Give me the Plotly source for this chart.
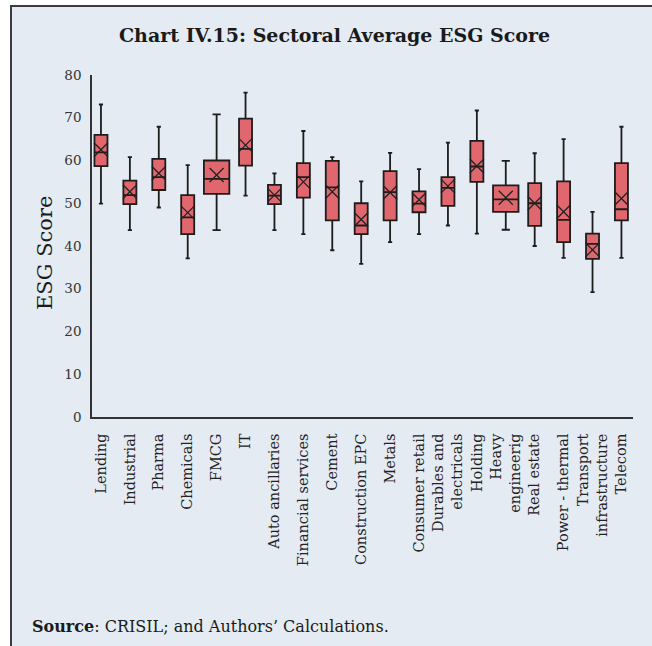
import plotly.graph_objects as go

# Sector names (tick labels) and box-plot statistics of ESG scores per sector
sectors = [
    "Lending", "Industrial", "Pharma", "Chemicals", "FMCG", "IT",
    "Auto ancillaries", "Financial services", "Cement", "Construction EPC",
    "Metals", "Consumer retail", "Durables and<br>electricals", "Holding",
    "Heavy<br>engineerig", "Real estate", "Power - thermal",
    "Transport<br>infrastructure", "Telecom",
]
lower_whisker = [49.9, 43.7, 49.0, 37.1, 43.7, 51.8, 43.7, 42.8, 39.0, 35.8,
                 40.9, 42.8, 44.8, 42.9, 43.8, 40.0, 37.2, 29.2, 37.2]
q1 = [58.7, 49.8, 53.1, 42.8, 52.2, 58.8, 49.8, 51.3, 46.0, 42.8,
      46.0, 47.9, 49.4, 55.0, 48.0, 44.7, 40.9, 37.0, 46.0]
median = [61.9, 51.9, 56.1, 46.7, 55.7, 62.7, 51.8, 56.1, 53.7, 44.8,
          52.6, 49.9, 53.6, 58.6, 50.9, 50.0, 46.1, 40.5, 48.6]
q3 = [66.0, 55.3, 60.4, 51.9, 60.0, 69.8, 54.3, 59.4, 59.9, 50.0,
      57.5, 52.8, 56.1, 64.6, 54.2, 54.7, 55.1, 42.9, 59.4]
upper_whisker = [73.1, 60.8, 67.9, 58.9, 70.8, 75.9, 57.0, 66.9, 60.8, 55.1,
                 61.8, 58.0, 64.2, 71.7, 59.9, 61.7, 65.0, 48.0, 67.9]
mean = [62.5, 52.7, 57.0, 47.8, 56.6, 63.6, 51.9, 55.0, 52.7, 46.2,
        52.5, 50.8, 54.0, 58.7, 51.3, 50.0, 48.0, 39.1, 51.1]
y_ticks = [0, 10, 20, 30, 40, 50, 60, 70, 80]

# Styling
FONT = "DejaVu Serif"
BOX_FILL = "#E0676E"
BOX_LINE = "#1c1c1c"
FRAME_FILL = "#E4EBF3"
WIDE_BOXES = {"FMCG", "Heavy<br>engineerig"}

# Pixel geometry of the plotting area inside the 652x646 canvas
W, H = 652, 646
L, R, T, B = 92, 19, 75, 229
PW, PH = W - L - R, H - T - B


def px_x(x):
    return (x - L) / PW


def px_y(y):
    return (H - B - y) / PH


fig = go.Figure()

for i, name in enumerate(sectors):
    fig.add_trace(go.Box(
        x=[name],
        q1=[q1[i]], median=[median[i]], q3=[q3[i]],
        lowerfence=[lower_whisker[i]], upperfence=[upper_whisker[i]],
        width=0.88 if name in WIDE_BOXES else 0.45,
        whiskerwidth=0.32,
        fillcolor=BOX_FILL,
        line=dict(color=BOX_LINE, width=1.8),
        boxpoints=False,
        showlegend=False,
        hoverinfo="skip",
    ))

# Means shown as X markers
fig.add_trace(go.Scatter(
    x=sectors, y=mean, mode="markers",
    marker=dict(symbol="x-thin", size=14,
                line=dict(color="#222222", width=1.3)),
    showlegend=False, hoverinfo="skip",
))

fig.update_layout(
    width=W, height=H,
    margin=dict(l=L, r=R, t=T, b=B, autoexpand=False),
    paper_bgcolor="white",
    plot_bgcolor="rgba(0,0,0,0)",
    boxmode="overlay",
    font=dict(family=FONT, color="#222222", size=13),
    xaxis=dict(
        type="category",
        categoryorder="array", categoryarray=sectors,
        range=[-0.31, 18.4],
        showline=True, linecolor="#333333", linewidth=1.5,
        showgrid=False, ticks="",
        tickangle=-90, ticklabelstandoff=9,
        tickfont=dict(family=FONT, size=14.5, color="#222222"),
    ),
    yaxis=dict(
        range=[0, 80], tickvals=y_ticks,
        showline=True, linecolor="#333333", linewidth=1.5,
        showgrid=False, zeroline=False, ticks="",
        ticklabelstandoff=6,
        tickfont=dict(family=FONT, size=13.5, color="#333333"),
    ),
    shapes=[dict(
        type="rect", xref="paper", yref="paper", layer="below",
        x0=px_x(11), x1=px_x(720), y0=px_y(720), y1=px_y(6),
        fillcolor=FRAME_FILL, line=dict(color="#3c3c3c", width=2),
    )],
    annotations=[
        dict(text="<b>Chart IV.15: Sectoral Average ESG Score</b>",
             xref="paper", yref="paper", x=px_x(334), y=px_y(35),
             xanchor="center", yanchor="middle", showarrow=False,
             font=dict(family=FONT, size=19, color="#1a1a1a")),
        dict(text="ESG Score", textangle=-90,
             xref="paper", yref="paper", x=px_x(45), y=px_y(253),
             xanchor="center", yanchor="middle", showarrow=False,
             font=dict(family=FONT, size=21, color="#1a1a1a")),
        dict(text="<b>Source</b>: CRISIL; and Authors\u2019 Calculations.",
             xref="paper", yref="paper", x=px_x(30), y=px_y(626),
             xanchor="left", yanchor="middle", showarrow=False,
             font=dict(family=FONT, size=16, color="#1a1a1a")),
    ],
)

fig.write_html("out.html")
